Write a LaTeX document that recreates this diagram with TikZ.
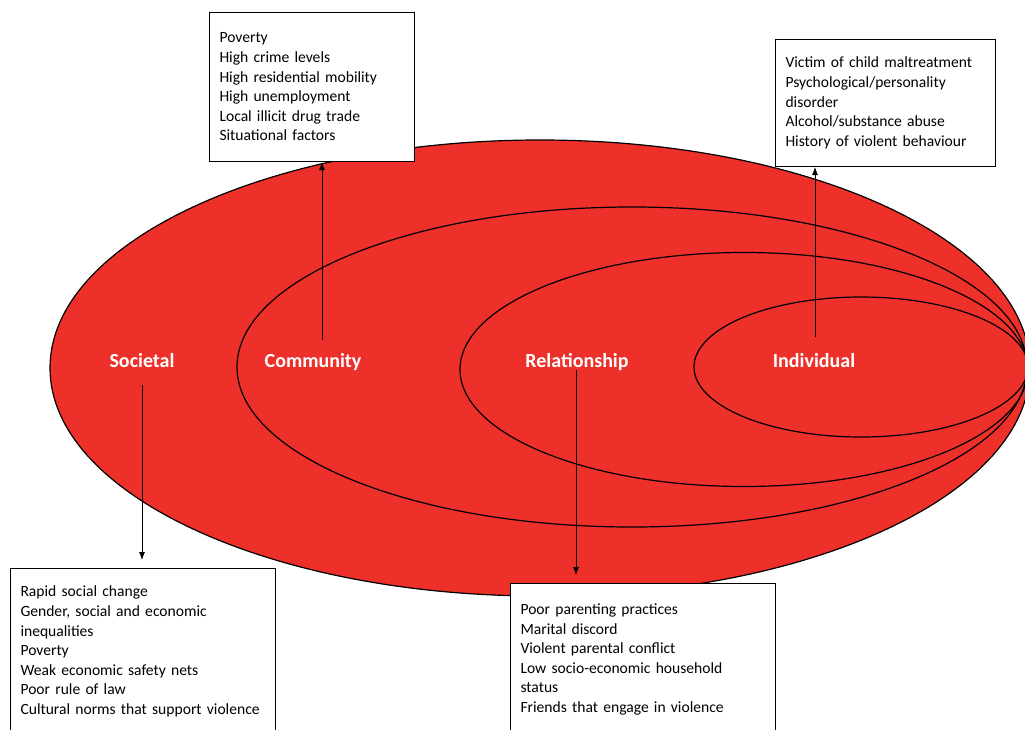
\documentclass[tikz,border=0pt]{standalone}
\usepackage{fontspec}
\setmainfont{Carlito}
\usetikzlibrary{arrows.meta}
\hyphenpenalty=10000
\definecolor{ringred}{RGB}{238,48,43}
\tikzset{
  ring/.style={draw=black, line width=1.2pt},
  level/.style={text=white, anchor=base, inner sep=0pt,
    font=\fontsize{20}{24}\selectfont\bfseries},
  factors/.style={draw=black, line width=1pt, fill=white, anchor=north west,
    align=left, inner xsep=10pt, inner ysep=0pt,
    font=\fontsize{15.6}{19.6}\selectfont},
  link/.style={line width=0.8pt, -{Latex[length=8pt,width=6pt]}}
}
\begin{document}
\begin{tikzpicture}[x=1pt,y=-1pt]
  \clip (0,0) rectangle (1025,729);
  \fill[white] (0,0) rectangle (1025,729);

  % nested ecological levels, all touching at the right
  \draw[ring, fill=ringred] (540,368) ellipse [x radius=490pt, y radius=228pt];
  \draw[ring] (632,367) ellipse [x radius=395pt, y radius=160pt];
  \draw[ring] (744,369.5) ellipse [x radius=284pt, y radius=117pt];
  \draw[ring] (861,367) ellipse [x radius=167pt, y radius=70pt];

  % level labels
  \node[level] (soc) at (142,367) {Societal};
  \node[level] (com) at (313,367) {Community};
  \node[level] (rel) at (577,367) {Relationship};
  \node[level] (ind) at (814,367) {Individual};

  % risk factor boxes
  \node[factors, text width=185pt, minimum height=149pt] (combox) at (209,12)
    {Poverty\\High crime levels\\High residential mobility\\High unemployment\\Local illicit drug trade\\Situational factors};
  \node[factors, text width=200pt, minimum height=127pt] (indbox) at (775,39)
    {Victim of child maltreatment\\Psychological/personality\\disorder\\Alcohol/substance abuse\\History of violent behaviour};
  \node[factors, text width=245pt, minimum height=166pt] (socbox) at (10,568)
    {Rapid social change\\Gender, social and economic\\inequalities\\Poverty\\Weak economic safety nets\\Poor rule of law\\Cultural norms that support violence};
  \node[factors, text width=245pt, minimum height=152pt] (relbox) at (510,583)
    {Poor parenting practices\\Marital discord\\Violent parental conflict\\Low socio-economic household\\status\\Friends that engage in violence};

  % connectors from levels to their boxes
  \coordinate (comfoot) at (322,340);
  \coordinate (indfoot) at (815,337);
  \coordinate (socfoot) at (142,385);
  \coordinate (relfoot) at (576,370);
  \draw[link] (comfoot) -- (comfoot |- combox.south);
  \draw[link] (indfoot) -- (indfoot |- indbox.south);
  \draw[link] (socfoot) -- ([yshift=8pt]socfoot |- socbox.north);
  \draw[link] (relfoot) -- ([yshift=8pt]relfoot |- relbox.north);
\end{tikzpicture}
\end{document}
